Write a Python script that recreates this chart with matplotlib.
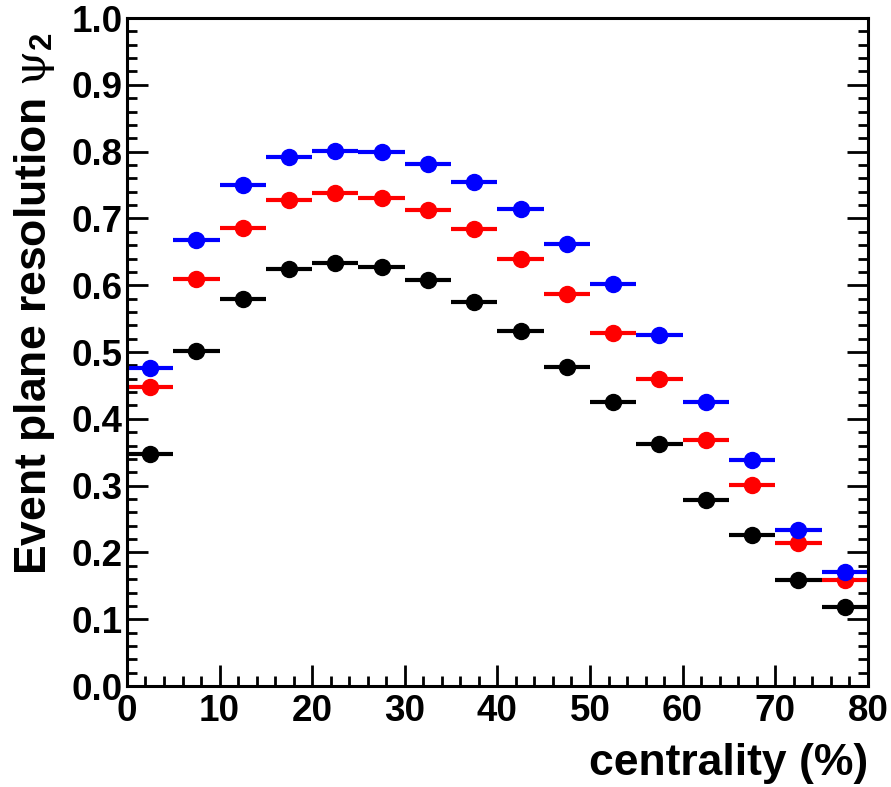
"""
Event plane resolution (psi_2) vs centrality, three estimators, ROOT-style frame.
"""
import numpy as np
import matplotlib
matplotlib.use("Agg")
import matplotlib.pyplot as plt
from matplotlib.ticker import MultipleLocator, FormatStrFormatter

BIN_LO = [0, 5, 10, 15, 20, 25, 30, 35, 40, 45, 50, 55, 60, 65, 70, 75]
BIN_HI = [5, 10, 15, 20, 25, 30, 35, 40, 45, 50, 55, 60, 65, 70, 75, 80]

RES_BLUE = [0.476, 0.668, 0.750, 0.792, 0.801, 0.799, 0.782, 0.754,
            0.714, 0.661, 0.602, 0.526, 0.425, 0.339, 0.234, 0.171]
RES_RED = [0.447, 0.609, 0.685, 0.728, 0.738, 0.731, 0.713, 0.684,
           0.640, 0.587, 0.529, 0.459, 0.368, 0.301, 0.214, 0.159]
RES_BLACK = [0.347, 0.502, 0.579, 0.624, 0.634, 0.627, 0.608, 0.575,
             0.531, 0.478, 0.425, 0.362, 0.279, 0.226, 0.158, 0.119]

SERIES = [
    (RES_BLACK, "#000000"),
    (RES_RED, "#ff0000"),
    (RES_BLUE, "#0000ff"),
]


def main():
    plt.rcParams.update({
        "font.family": ["Liberation Sans", "DejaVu Sans"],
        "font.weight": "bold",
        "mathtext.fontset": "custom",
        "mathtext.rm": "DejaVu Serif",
        "mathtext.it": "DejaVu Serif:normal",
        "mathtext.bf": "Liberation Sans:bold",
    })

    fig = plt.figure(figsize=(8.91, 7.87), dpi=100)
    ax = fig.add_axes([0.1425, 0.1283, 0.8315, 0.8488])

    lo = np.array(BIN_LO, dtype=float)
    hi = np.array(BIN_HI, dtype=float)
    centers = 0.5 * (lo + hi)
    half = 0.5 * (hi - lo)

    for vals, color in SERIES:
        ax.errorbar(
            centers, vals, xerr=half,
            fmt="o", color=color, markersize=11.5,
            elinewidth=3.0, capsize=0, linestyle="none",
        )

    ax.set_xlim(0, 80)
    ax.set_ylim(0, 1.0)

    ax.xaxis.set_major_locator(MultipleLocator(10))
    ax.xaxis.set_minor_locator(MultipleLocator(2))
    ax.yaxis.set_major_locator(MultipleLocator(0.1))
    ax.yaxis.set_minor_locator(MultipleLocator(0.02))
    ax.yaxis.set_major_formatter(FormatStrFormatter("%.1f"))

    ax.tick_params(which="both", direction="in", left=True, right=True,
                   bottom=True, top=False, width=2.0, labelsize=26.5)
    ax.tick_params(which="major", length=15)
    ax.tick_params(which="minor", length=7.5)
    ax.tick_params(axis="y", which="major", pad=3)
    ax.tick_params(axis="x", which="major", pad=6)
    for spine in ax.spines.values():
        spine.set_linewidth(2.2)

    ax.set_xlabel("centrality (%)", fontsize=32, fontweight="bold",
                  loc="right", labelpad=10)
    ax.set_ylabel(r"Event plane resolution $\psi_{\mathbf{2}}$", fontsize=32,
                  fontweight="bold", loc="top")
    ax.yaxis.set_label_coords(-0.094, 0.979)

    fig.savefig("out.png", dpi=100)
    plt.close(fig)


if __name__ == "__main__":
    main()
